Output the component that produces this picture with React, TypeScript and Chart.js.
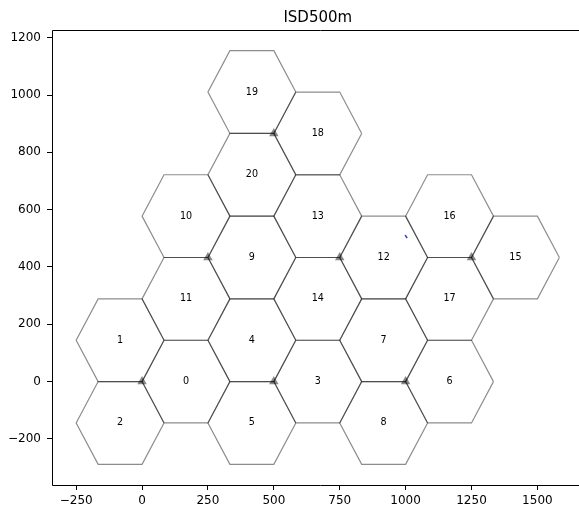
import React, { useEffect, useRef } from "react";
import { Chart, registerables } from "chart.js";

Chart.register(...registerables);

const titleText = "ISD500m";
const cellIds = [0, 1, 2, 3, 4, 5, 6, 7, 8, 9, 10, 11, 12, 13, 14, 15, 16, 17, 18, 19, 20];
const cellX = [166.7, -83.3, -83.3, 666.7, 416.7, 416.7, 1166.7, 916.7, 916.7, 416.7, 166.7, 166.7, 916.7, 666.7, 666.7, 1416.7, 1166.7, 1166.7, 666.7, 416.7, 416.7];
const cellY = [0, 144.3, -144.3, 0, 144.3, -144.3, 0, 144.3, -144.3, 433, 577.4, 288.7, 433, 577.4, 288.7, 433, 577.4, 288.7, 866, 1010.4, 721.7];
const hexRadius = 166.7;
const siteX = [0, 500, 1000, 250, 750, 1250, 500];
const siteY = [0, 0, 0, 433, 433, 433, 866];
const ueX = [998, 1006];
const ueY = [511, 501];
const xTicks = [-250, 0, 250, 500, 750, 1000, 1250, 1500];
const yTicks = [-200, 0, 200, 400, 600, 800, 1000, 1200];
const xMin = -341.7;
const xMax = 1675;
const yMin = -360.8;
const yMax = 1226.9;

function hexPoints(cx: number, cy: number) {
  const pts = [] as { x: number; y: number }[];
  for (let k = 0; k <= 6; k++) {
    const a = (Math.PI / 3) * (k % 6);
    pts.push({ x: cx + hexRadius * Math.cos(a), y: cy + hexRadius * Math.sin(a) });
  }
  return pts;
}

const fmt = (v: any) => (v < 0 ? "\u2212" + Math.abs(v) : String(v));

export default function App() {
  const ref = useRef<HTMLCanvasElement | null>(null);
  useEffect(() => {
    if (!ref.current) return;
    Chart.defaults.font.family = "'DejaVu Sans'";
    const datasets: any[] = cellIds.map((id, i) => ({
      type: "line",
      label: "cell" + id,
      data: hexPoints(cellX[i], cellY[i]),
      showLine: true,
      borderColor: "rgba(0,0,0,0.45)",
      borderWidth: 1.2,
      pointRadius: 0,
      fill: false,
      tension: 0,
    }));
    datasets.push({
      type: "line",
      label: "ue",
      data: ueX.map((x, i) => ({ x, y: ueY[i] })),
      showLine: true,
      borderColor: "#2a3fd0",
      borderWidth: 1.5,
      pointRadius: 0,
      fill: false,
    });
    datasets.push({
      type: "scatter",
      label: "sites",
      data: siteX.map((x, i) => ({ x, y: siteY[i] })),
      pointStyle: "triangle",
      pointRadius: 5.5,
      backgroundColor: "rgba(85,85,85,0.7)",
      borderWidth: 0,
    });

    const framePlugin = {
      id: "frame",
      afterDatasetsDraw(chart: any) {
        const { ctx, chartArea, scales } = chart;
        ctx.save();
        ctx.fillStyle = "#000";
        ctx.font = "9.6px 'DejaVu Sans'";
        ctx.textAlign = "center";
        ctx.textBaseline = "middle";
        cellIds.forEach((id, i) => {
          ctx.fillText(String(id), scales.x.getPixelForValue(cellX[i]), scales.y.getPixelForValue(cellY[i]));
        });
        ctx.strokeStyle = "#000";
        ctx.lineWidth = 1;
        const l = Math.round(chartArea.left) + 0.5;
        const t = Math.round(chartArea.top) + 0.5;
        const b = Math.round(chartArea.bottom) + 0.5;
        ctx.beginPath();
        ctx.moveTo(chartArea.right + 5, t);
        ctx.lineTo(l, t);
        ctx.lineTo(l, b);
        ctx.lineTo(chartArea.right + 5, b);
        ctx.stroke();
        ctx.font = "15px 'DejaVu Sans'";
        ctx.textBaseline = "alphabetic";
        ctx.fillText(titleText, (chartArea.left + chartArea.right) / 2, 22);
        ctx.restore();
      },
    };

    const chart = new Chart(ref.current, {
      type: "scatter",
      data: { datasets },
      options: {
        animation: false,
        responsive: false,
        devicePixelRatio: 1,
        layout: { padding: { top: 30, left: 0, right: 0, bottom: 0 } },
        plugins: { legend: { display: false }, tooltip: { enabled: false }, title: { display: false } },
        scales: {
          x: {
            type: "linear",
            min: xMin,
            max: xMax,
            afterBuildTicks: (s: any) => { s.ticks = xTicks.map((v) => ({ value: v })); },
            afterFit: (s: any) => { s.height = 30; },
            grid: { drawOnChartArea: false, drawTicks: true, tickLength: 5, color: "#000" },
            border: { display: false },
            ticks: { color: "#000", font: { size: 12 }, padding: 4, maxRotation: 0, callback: fmt },
          },
          y: {
            type: "linear",
            min: yMin,
            max: yMax,
            afterBuildTicks: (s: any) => { s.ticks = yTicks.map((v) => ({ value: v })); },
            afterFit: (s: any) => { s.width = 52; },
            grid: { drawOnChartArea: false, drawTicks: true, tickLength: 5, color: "#000" },
            border: { display: false },
            ticks: { color: "#000", font: { size: 12 }, padding: 6, callback: fmt },
          },
        },
      },
      plugins: [framePlugin],
    } as any);
    return () => chart.destroy();
  }, []);
  return (
    <div style={{ position: "fixed", left: 0, top: 0, width: 579, height: 515, overflow: "hidden", background: "#fff" }}>
      <canvas ref={ref} width={589} height={515} style={{ width: 589, height: 515, display: "block" }} />
    </div>
  );
}
